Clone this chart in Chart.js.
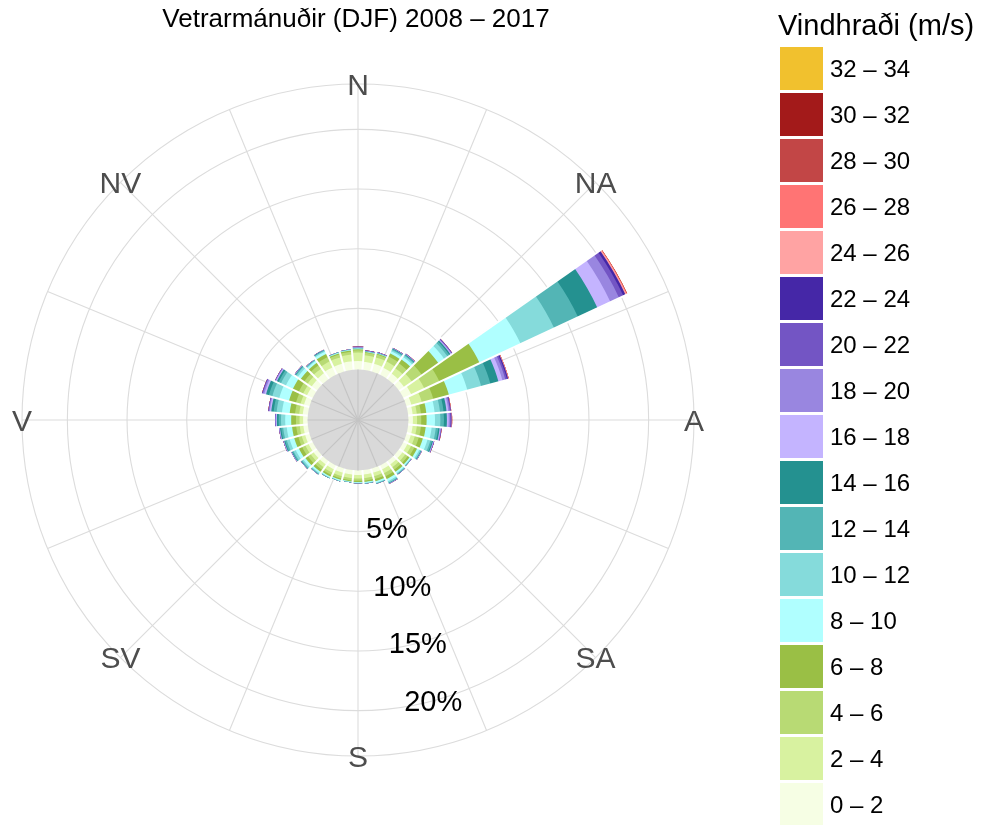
<!DOCTYPE html>
<html>
<head>
<meta charset="utf-8">
<title>Vindrós</title>
<script src="https://cdn.jsdelivr.net/npm/chart.js@4.4.1/dist/chart.umd.min.js"></script>
<style>
  html, body { margin: 0; padding: 0; background: #fff; overflow: hidden; }
  canvas { display: block; }
</style>
</head>
<body>
<canvas id="rose" width="981" height="825"></canvas>
<script>
// vindáttir á 10° fresti, byrjað í norðri
const directions = [0, 10, 20, 30, 40, 50, 60, 70, 80, 90, 100, 110, 120, 130, 140, 150, 160, 170,
                    180, 190, 200, 210, 220, 230, 240, 250, 260, 270, 280, 290, 300, 310, 320, 330, 340, 350];

const speedLabels = ['0 – 2', '2 – 4', '4 – 6', '6 – 8', '8 – 10', '10 – 12', '12 – 14', '14 – 16', '16 – 18',
                     '18 – 20', '20 – 22', '22 – 24', '24 – 26', '26 – 28', '28 – 30', '30 – 32', '32 – 34'];

const speedColors = ['#f6fee4', '#d8f2a0', '#b8da74', '#9abf45', '#b0ffff', '#85dbdb', '#53b5b5', '#249190', '#c4b4ff',
                     '#9986e0', '#7355c4', '#4527a7', '#ffa3a3', '#ff7474', '#c24646', '#a31a1a', '#f1c12e'];

// tíðni (%) hvers vindhraðabils eftir átt
const s0_2 = [0.60, 0.55, 0.55, 0.50, 0.45, 0.40, 0.60, 0.30, 0.25, 0.25, 0.25, 0.25,
              0.25, 0.25, 0.25, 0.25, 0.25, 0.25, 0.25, 0.25, 0.25, 0.25, 0.25, 0.25,
              0.25, 0.25, 0.25, 0.25, 0.30, 0.35, 0.40, 0.45, 0.50, 0.55, 0.55, 0.60];
const s2_4 = [0.70, 0.55, 0.55, 0.60, 0.55, 0.80, 1.20, 0.90, 0.35, 0.35, 0.35, 0.35,
              0.35, 0.30, 0.30, 0.35, 0.30, 0.30, 0.30, 0.30, 0.30, 0.30, 0.30, 0.30,
              0.30, 0.30, 0.30, 0.30, 0.30, 0.30, 0.35, 0.40, 0.45, 0.55, 0.55, 0.55];
const s4_6 = [0.20, 0.20, 0.25, 0.45, 0.50, 1.00, 1.40, 1.00, 0.35, 0.35, 0.35, 0.35,
              0.30, 0.25, 0.25, 0.30, 0.25, 0.20, 0.20, 0.18, 0.20, 0.22, 0.25, 0.28,
              0.30, 0.30, 0.30, 0.30, 0.35, 0.40, 0.40, 0.35, 0.35, 0.40, 0.25, 0.25];
const s6_8 = [0.07, 0.06, 0.07, 0.30, 0.40, 1.70, 3.70, 1.35, 0.45, 0.45, 0.40, 0.35,
              0.25, 0.18, 0.20, 0.25, 0.18, 0.12, 0.10, 0.09, 0.12, 0.15, 0.20, 0.25,
              0.30, 0.35, 0.35, 0.40, 0.45, 0.60, 0.55, 0.35, 0.25, 0.30, 0.10, 0.10];
const s8_10 = [0.05, 0.03, 0.03, 0.20, 0.25, 0.60, 3.80, 1.60, 0.70, 0.70, 0.50, 0.40,
               0.20, 0.12, 0.15, 0.20, 0.12, 0.08, 0.06, 0.05, 0.08, 0.10, 0.15, 0.22,
               0.30, 0.40, 0.45, 0.50, 0.65, 0.85, 0.65, 0.30, 0.18, 0.20, 0.05, 0.04];
const s10_12 = [0.04, 0.02, 0.02, 0.12, 0.15, 0.35, 3.10, 1.20, 0.45, 0.45, 0.35, 0.25,
                0.12, 0.05, 0.08, 0.12, 0.06, 0.03, 0.02, 0.02, 0.03, 0.05, 0.08, 0.13,
                0.20, 0.25, 0.30, 0.35, 0.45, 0.60, 0.45, 0.17, 0.08, 0.10, 0.02, 0.02];
const s12_14 = [0.03, 0.02, 0.02, 0.08, 0.08, 0.20, 2.20, 0.80, 0.30, 0.30, 0.20, 0.15,
                0.06, 0.02, 0.03, 0.06, 0.02, 0.01, 0.01, 0.01, 0.01, 0.02, 0.04, 0.07,
                0.10, 0.15, 0.17, 0.20, 0.25, 0.30, 0.22, 0.08, 0.04, 0.04, 0.01, 0.01];
const s14_16 = [0.02, 0.01, 0.01, 0.05, 0.05, 0.10, 1.80, 0.70, 0.25, 0.25, 0.12, 0.08,
                0.03, 0.01, 0.02, 0.03, 0.01, 0.01, 0.01, 0.00, 0.01, 0.01, 0.02, 0.03,
                0.05, 0.08, 0.10, 0.15, 0.20, 0.25, 0.16, 0.05, 0.02, 0.03, 0.01, 0.01];
const s16_18 = [0.02, 0.02, 0.02, 0.02, 0.03, 0.07, 1.20, 0.35, 0.15, 0.15, 0.07, 0.05,
                0.02, 0.01, 0.01, 0.02, 0.01, 0.00, 0.00, 0.00, 0.00, 0.00, 0.01, 0.01,
                0.03, 0.04, 0.05, 0.08, 0.12, 0.15, 0.08, 0.02, 0.01, 0.01, 0.01, 0.01];
const s18_20 = [0.03, 0.02, 0.02, 0.02, 0.02, 0.06, 0.80, 0.25, 0.12, 0.12, 0.05, 0.03,
                0.01, 0.01, 0.01, 0.01, 0.00, 0.00, 0.00, 0.00, 0.00, 0.00, 0.00, 0.01,
                0.02, 0.02, 0.02, 0.04, 0.08, 0.12, 0.06, 0.02, 0.01, 0.01, 0.00, 0.01];
const s20_22 = [0.03, 0.02, 0.01, 0.01, 0.01, 0.04, 0.40, 0.15, 0.07, 0.08, 0.03, 0.02,
                0.01, 0.00, 0.00, 0.01, 0.00, 0.00, 0.00, 0.00, 0.00, 0.00, 0.00, 0.00,
                0.00, 0.01, 0.01, 0.02, 0.04, 0.06, 0.02, 0.01, 0.01, 0.01, 0.00, 0.00];
const s22_24 = [0.02, 0.01, 0.01, 0.01, 0.01, 0.02, 0.20, 0.10, 0.03, 0.04, 0.02, 0.01,
                0.00, 0.00, 0.00, 0.00, 0.00, 0.00, 0.00, 0.00, 0.00, 0.00, 0.00, 0.00,
                0.00, 0.00, 0.00, 0.01, 0.01, 0.02, 0.01, 0.00, 0.00, 0.00, 0.00, 0.00];
const s24_26 = [0, 0, 0, 0, 0, 0, 0.10, 0.03, 0.02, 0.03, 0.01, 0,
                0, 0, 0, 0, 0, 0, 0, 0, 0, 0, 0, 0,
                0, 0, 0, 0, 0, 0, 0, 0, 0, 0, 0, 0];
const s26_28 = [0, 0, 0, 0, 0, 0, 0.05, 0.02, 0.01, 0.02, 0, 0,
                0, 0, 0, 0, 0, 0, 0, 0, 0, 0, 0, 0,
                0, 0, 0, 0, 0, 0, 0, 0, 0, 0, 0, 0];
const s28_30 = [0, 0, 0, 0, 0, 0, 0.02, 0, 0, 0, 0, 0,
                0, 0, 0, 0, 0, 0, 0, 0, 0, 0, 0, 0,
                0, 0, 0, 0, 0, 0, 0, 0, 0, 0, 0, 0];
const s30_32 = [0, 0, 0, 0, 0, 0, 0, 0, 0, 0, 0, 0,
                0, 0, 0, 0, 0, 0, 0, 0, 0, 0, 0, 0,
                0, 0, 0, 0, 0, 0, 0, 0, 0, 0, 0, 0];
const s32_34 = [0, 0, 0, 0, 0, 0, 0, 0, 0, 0, 0, 0,
                0, 0, 0, 0, 0, 0, 0, 0, 0, 0, 0, 0,
                0, 0, 0, 0, 0, 0, 0, 0, 0, 0, 0, 0];

const speedData = [s0_2, s2_4, s4_6, s6_8, s8_10, s10_12, s12_14, s14_16, s16_18,
                   s18_20, s20_22, s22_24, s24_26, s26_28, s28_30, s30_32, s32_34];

const ringValues = [5, 10, 15, 20];
const compassNames = ['N', 'NA', 'A', 'SA', 'S', 'SV', 'V', 'NV'];

const rMin = -4.35;
const rMax = 23.8;
const FONT = '"Liberation Sans", Arial, sans-serif';

// polarArea kann ekki að stafla, svo hvert bil er teiknað sem uppsöfnuð summa
// og minni summurnar lagðar ofan á þær stærri
const cumulative = [];
speedData.forEach((arr, k) => {
  cumulative.push(arr.map((v, i) => v + (k > 0 ? cumulative[k - 1][i] : 0)));
});
const totals = cumulative[cumulative.length - 1];

const datasets = speedData.map((arr, k) => ({
  label: speedLabels[k],
  data: cumulative[k],
  backgroundColor: speedColors[k],
  borderWidth: 0
}));

const rad = d => d * Math.PI / 180;

const roseDecor = {
  id: 'roseDecor',
  beforeDatasetsDraw(chart) {
    const sc = chart.scales.r;
    const ctx = chart.ctx;
    ctx.save();
    ctx.strokeStyle = '#dcdcdc';
    ctx.lineWidth = 1.1;
    for (let k = 0; k < 16; k++) {
      const a = rad(k * 22.5);
      ctx.beginPath();
      ctx.moveTo(sc.xCenter, sc.yCenter);
      ctx.lineTo(sc.xCenter + sc.drawingArea * Math.sin(a), sc.yCenter - sc.drawingArea * Math.cos(a));
      ctx.stroke();
    }
    ctx.restore();
  },
  afterDatasetsDraw(chart) {
    const sc = chart.scales.r;
    const ctx = chart.ctx;
    const cx = sc.xCenter, cy = sc.yCenter;
    ctx.save();

    // hvít bil milli átta
    ctx.strokeStyle = '#ffffff';
    ctx.lineWidth = 2;
    for (let i = 0; i < directions.length; i++) {
      const j = (i + 1) % directions.length;
      const len = sc.getDistanceFromCenterForValue(Math.max(totals[i], totals[j])) + 2;
      const a = rad(directions[i] + 5);
      ctx.beginPath();
      ctx.moveTo(cx, cy);
      ctx.lineTo(cx + len * Math.sin(a), cy - len * Math.cos(a));
      ctx.stroke();
    }

    // grái hringurinn í miðjunni
    const hole = sc.getDistanceFromCenterForValue(0) - 1.5;
    ctx.fillStyle = '#d9d9d9';
    ctx.beginPath();
    ctx.arc(cx, cy, hole, 0, Math.PI * 2);
    ctx.fill();
    ctx.strokeStyle = '#c4c4c4';
    ctx.lineWidth = 1.1;
    for (let k = 0; k < 16; k++) {
      const a = rad(k * 22.5);
      ctx.beginPath();
      ctx.moveTo(cx, cy);
      ctx.lineTo(cx + hole * Math.sin(a), cy - hole * Math.cos(a));
      ctx.stroke();
    }

    // áttaheiti
    ctx.fillStyle = '#4d4d4d';
    ctx.font = '30px ' + FONT;
    ctx.textAlign = 'center';
    ctx.textBaseline = 'alphabetic';
    compassNames.forEach((name, k) => {
      const a = rad(k * 45);
      ctx.fillText(name, cx + sc.drawingArea * Math.sin(a), cy - sc.drawingArea * Math.cos(a) + 10.7);
    });

    // prósentur á hringjunum
    ctx.fillStyle = '#000000';
    ctx.font = '29px ' + FONT;
    const la = rad(165);
    ringValues.forEach(v => {
      const d = sc.getDistanceFromCenterForValue(v);
      ctx.fillText(v + '%', cx + d * Math.sin(la), cy - d * Math.cos(la) + 10.4);
    });

    // titill
    ctx.font = '26px ' + FONT;
    ctx.fillText('Vetrarmánuðir (DJF) 2008 – 2017', 356, 27);

    // skýringar
    ctx.textAlign = 'left';
    ctx.font = '29px ' + FONT;
    ctx.fillText('Vindhraði (m/s)', 778, 35);
    ctx.font = '24px ' + FONT;
    const items = chart.data.datasets.slice().reverse();
    items.forEach((ds, i) => {
      const y = 47 + i * 46;
      ctx.fillStyle = ds.backgroundColor;
      ctx.fillRect(780, y, 43, 43);
      ctx.fillStyle = '#000000';
      ctx.fillText(ds.label, 830, y + 30);
    });

    ctx.restore();
  }
};

new Chart(document.getElementById('rose'), {
  type: 'polarArea',
  data: {
    labels: directions.map(d => d + '°'),
    datasets: datasets
  },
  options: {
    responsive: false,
    animation: false,
    layout: { padding: { left: 22, right: 287, top: 84, bottom: 69 } },
    plugins: {
      legend: { display: false },
      title: { display: false },
      tooltip: { enabled: false }
    },
    scales: {
      r: {
        min: rMin,
        max: rMax,
        startAngle: -5,
        ticks: { display: false },
        grid: { color: '#dcdcdc', lineWidth: 1.1 },
        angleLines: { display: false },
        pointLabels: { display: false },
        afterBuildTicks: scale => {
          scale.ticks = [rMin].concat(ringValues, [rMax]).map(v => ({ value: v }));
        }
      }
    }
  },
  plugins: [roseDecor]
});
</script>
</body>
</html>
